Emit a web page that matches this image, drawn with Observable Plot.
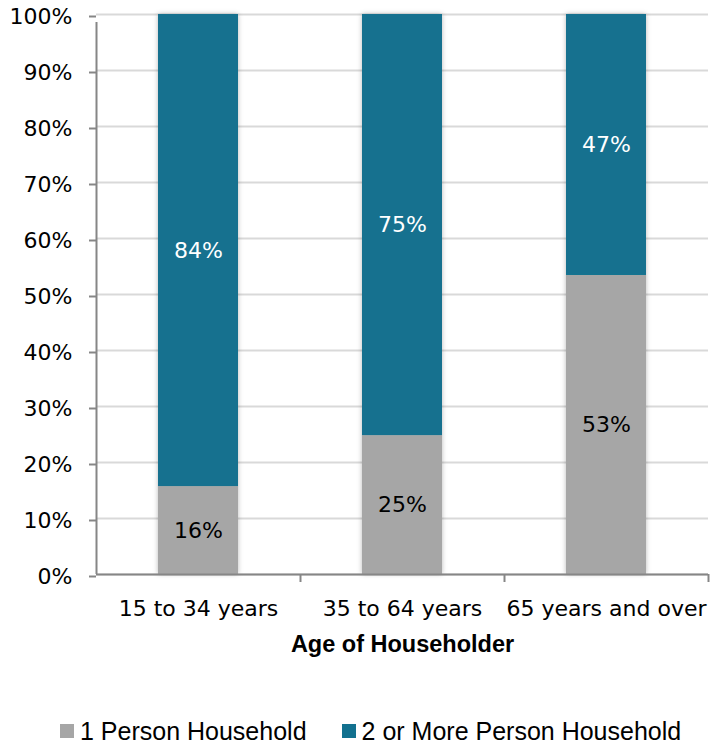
<!DOCTYPE html>
<html>
<head>
<meta charset="utf-8">
<script src="https://cdn.jsdelivr.net/npm/d3@7"></script>
<script src="https://cdn.jsdelivr.net/npm/@observablehq/plot@0.6"></script>
<style>
  html, body { margin: 0; padding: 0; background: #fff; }
  body { position: relative; width: 710px; height: 746px; overflow: hidden; }
  #legend { position: absolute; left: 60px; top: 717px; display: flex; align-items: center;
    font-family: "Liberation Sans", Arial, sans-serif; font-size: 25px; line-height: 28px; color: #000; }
  .item { display: flex; align-items: center; }
  .sw { width: 14px; height: 14px; margin-right: 6px; }
</style>
</head>
<body>
<div id="chart"></div>
<div id="legend"></div>
<script>
const ages = ["15 to 34 years", "35 to 64 years", "65 years and over"];
const onePerson = [15.7, 24.8, 53.4];
const twoOrMore = [84.3, 75.2, 46.6];
const seriesNames = ["1 Person Household", "2 or More Person Household"];
const seriesColors = ["#A6A6A6", "#12718F"];
const yTicks = [0, 10, 20, 30, 40, 50, 60, 70, 80, 90, 100];
const xTitle = "Age of Householder";

const data = ages.flatMap((a, i) => [
  {age: a, type: seriesNames[0], value: onePerson[i]},
  {age: a, type: seriesNames[1], value: twoOrMore[i]}
]);

const W = 710, H = 680, ML = 96, MR = 2, MT = 14, MB = 106;
const step = (W - ML - MR) / ages.length;
const axisColor = "#868686";

const chart = Plot.plot({
  width: W, height: H,
  marginLeft: ML, marginRight: MR, marginTop: MT, marginBottom: MB,
  style: {fontFamily: "DejaVu Sans", fontSize: "22px", color: "#000", background: "#fff"},
  x: {domain: ages, paddingInner: 0.608, paddingOuter: 0.304, label: null},
  y: {domain: [0, 100], label: null},
  color: {domain: seriesNames, range: seriesColors},
  marks: [
    Plot.gridY(yTicks, {stroke: "#d9d9d9", strokeOpacity: 1, strokeWidth: 2}),
    Plot.barY(data, {x: "age", y: "value", fill: "type"}),
    Plot.text(data, Plot.stackY({x: "age", y: "value", z: "type",
      text: d => d.type === seriesNames[0] ? Math.round(d.value) + "%" : null,
      fill: "#000", fontSize: 22})),
    Plot.text(data, Plot.stackY({x: "age", y: "value", z: "type",
      text: d => d.type === seriesNames[1] ? Math.round(d.value) + "%" : null,
      fill: "#fff", fontSize: 22})),
    Plot.axisY({ticks: yTicks, tickFormat: d => d + "%", tickSize: 7, tickPadding: 17,
      stroke: axisColor, strokeWidth: 2, strokeOpacity: 1, fill: "#000", label: null, dy: 2}),
    Plot.ruleX([0], {x: () => ages[0], dx: -step / 2, y1: yTicks[0], y2: yTicks[yTicks.length - 1],
      insetBottom: -8, stroke: axisColor, strokeWidth: 2}),
    Plot.ruleY([0], {stroke: axisColor, strokeWidth: 2}),
    Plot.ruleX(ages, {x: d => d, dx: step / 2, y1: 0, y2: 0, insetBottom: -8, stroke: axisColor, strokeWidth: 2}),
    Plot.axisX({tickSize: 0, tickPadding: 26, fill: "#000", label: null}),
    Plot.text([xTitle], {text: d => d, frameAnchor: "bottom", dy: 77, fontWeight: "bold",
      fontFamily: "Liberation Sans", fontSize: 23.5, fill: "#000"})
  ]
});

// soft shadow around bars
const ns = "http://www.w3.org/2000/svg";
const defs = document.createElementNS(ns, "defs");
defs.innerHTML = '<filter id="barShadow" x="-20%" y="-5%" width="140%" height="110%">' +
  '<feDropShadow dx="0" dy="0" stdDeviation="2.5" flood-color="#000" flood-opacity="0.28"/></filter>';
chart.insertBefore(defs, chart.firstChild);
const barG = chart.querySelector('g[aria-label="bar"]');
if (barG) barG.setAttribute("filter", "url(#barShadow)");

document.getElementById("chart").appendChild(chart);

const legend = document.getElementById("legend");
seriesNames.forEach((name, i) => {
  const item = document.createElement("div");
  item.className = "item";
  if (i > 0) item.style.marginLeft = "35px";
  const sw = document.createElement("div");
  sw.className = "sw";
  sw.style.background = seriesColors[i];
  const label = document.createElement("span");
  label.textContent = name;
  item.appendChild(sw);
  item.appendChild(label);
  legend.appendChild(item);
});
</script>
</body>
</html>
